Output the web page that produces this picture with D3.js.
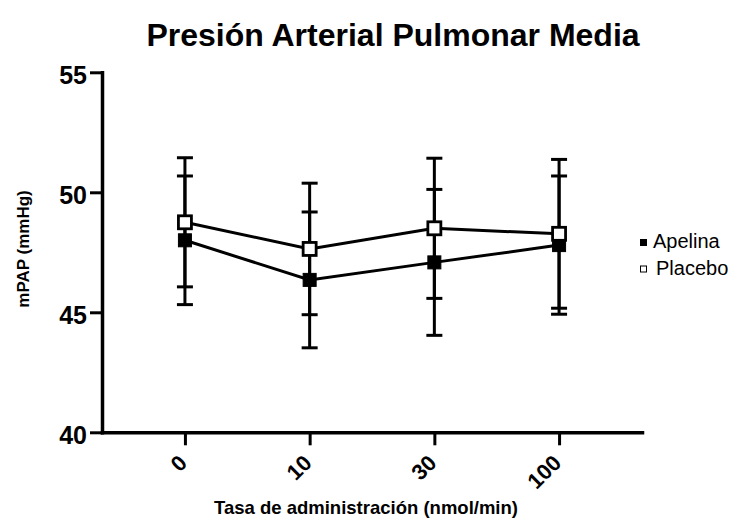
<!DOCTYPE html>
<html>
<head>
<meta charset="utf-8">
<script src="https://cdn.jsdelivr.net/npm/d3@7"></script>
<style>
  body { margin: 0; background: #fff; }
  text { font-family: "Liberation Sans", Arial, sans-serif; }
</style>
</head>
<body>
<script>
// data
let doses = ["0", "10", "30", "100"];
let apelinaMean = [48.0, 46.35, 47.08, 47.8];
let apelinaErr = [2.68, 2.83, 3.04, 2.88];
let placeboMean = [48.75, 47.64, 48.5, 48.27];
let placeboErr = [2.69, 2.74, 2.92, 3.1];
let yTicks = [40, 45, 50, 55];

let svg = d3.select("body").append("svg")
  .attr("width", 738)
  .attr("height", 529);

let x = d3.scalePoint().domain(doses).range([102, 642]).padding(0.665);
let y = d3.scaleLinear().domain([40, 55]).range([432.3, 72.3]);

// title
svg.append("text")
  .attr("x", 393)
  .attr("y", 46)
  .attr("text-anchor", "middle")
  .style("font-size", "32px")
  .style("font-weight", "bold")
  .text("Presión Arterial Pulmonar Media");

// y axis
let yAxis = svg.append("g")
  .attr("transform", "translate(102,0)")
  .call(d3.axisLeft(y).tickValues(yTicks).tickSize(12).tickSizeOuter(0).tickPadding(3));
yAxis.select(".domain").attr("stroke-width", 3.5).attr("stroke-linecap", "square");
yAxis.selectAll(".tick line").attr("stroke-width", 3);
yAxis.selectAll(".tick text")
  .attr("dy", "0.45em")
  .style("font-size", "25px")
  .style("font-weight", "bold")
  .attr("fill", "#000");

// x axis
let xAxis = svg.append("g")
  .attr("transform", "translate(0,432.3)")
  .call(d3.axisBottom(x).tickSize(13).tickSizeOuter(0));
xAxis.select(".domain").attr("stroke-width", 3.5).attr("stroke-linecap", "square");
xAxis.selectAll(".tick line").attr("stroke-width", 3);
xAxis.selectAll(".tick text").remove();
xAxis.selectAll(".tick").append("text")
  .attr("transform", "translate(3,32) rotate(-45)")
  .attr("text-anchor", "end")
  .attr("fill", "#000")
  .style("font-size", "22px")
  .style("font-weight", "bold")
  .text(d => d);

// axis titles
svg.append("text")
  .attr("x", 366)
  .attr("y", 514)
  .attr("text-anchor", "middle")
  .style("font-size", "18.5px")
  .style("font-weight", "bold")
  .text("Tasa de administración (nmol/min)");

svg.append("text")
  .attr("transform", "translate(29,249) rotate(-90)")
  .attr("text-anchor", "middle")
  .style("font-size", "17px")
  .style("font-weight", "bold")
  .text("mPAP (mmHg)");

function drawSeries(means, errs, filled) {
  let g = svg.append("g");
  let pts = doses.map((d, i) => ({ d: d, m: means[i], e: errs[i] }));

  // error bars
  pts.forEach(p => {
    g.append("line")
      .attr("x1", x(p.d)).attr("x2", x(p.d))
      .attr("y1", y(p.m + p.e)).attr("y2", y(p.m - p.e))
      .attr("stroke", "#000").attr("stroke-width", 3);
    [p.m + p.e, p.m - p.e].forEach(v => {
      g.append("line")
        .attr("x1", x(p.d) - 8).attr("x2", x(p.d) + 8)
        .attr("y1", y(v)).attr("y2", y(v))
        .attr("stroke", "#000").attr("stroke-width", 3);
    });
  });

  // connecting line
  g.append("path")
    .datum(pts)
    .attr("fill", "none")
    .attr("stroke", "#000")
    .attr("stroke-width", 3)
    .attr("d", d3.line().x(p => x(p.d)).y(p => y(p.m)));

  // markers
  let s = 13;
  g.selectAll("rect").data(pts).join("rect")
    .attr("x", p => x(p.d) - s / 2)
    .attr("y", p => y(p.m) - s / 2)
    .attr("width", s)
    .attr("height", s)
    .attr("fill", filled ? "#000" : "#fff")
    .attr("stroke", "#000")
    .attr("stroke-width", filled ? 1 : 2.8);
}

drawSeries(apelinaMean, apelinaErr, true);
drawSeries(placeboMean, placeboErr, false);

// legend
let legend = [
  { name: "Apelina", filled: true, y: 248 },
  { name: "Placebo", filled: false, y: 275 }
];
legend.forEach(l => {
  svg.append("rect")
    .attr("x", l.filled ? 640 : 640.5)
    .attr("y", l.y - 9)
    .attr("width", l.filled ? 7 : 6)
    .attr("height", l.filled ? 7 : 6)
    .attr("fill", l.filled ? "#000" : "#fff")
    .attr("stroke", "#000")
    .attr("stroke-width", l.filled ? 0 : 1);
  svg.append("text")
    .attr("x", l.filled ? 653 : 656)
    .attr("y", l.y)
    .style("font-size", "20px")
    .text(l.name);
});
</script>
</body>
</html>
